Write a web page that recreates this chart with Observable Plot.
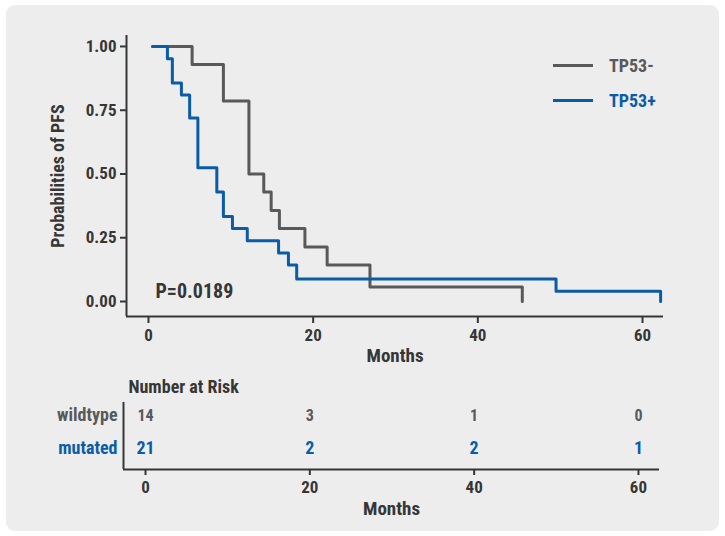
<!DOCTYPE html>
<html>
<head>
<meta charset="utf-8">
<script src="https://cdn.jsdelivr.net/npm/d3@7"></script>
<script src="https://cdn.jsdelivr.net/npm/@observablehq/plot@0.6"></script>
<style>
  html, body { margin: 0; padding: 0; background: #ffffff; }
  #wrap { position: relative; width: 725px; height: 536px; overflow: hidden; }
  #panel { position: absolute; left: 6px; top: 5px; width: 713px; height: 526px; border-radius: 9px; background: #ecedec; }
  #top, #bottom { position: absolute; left: 0; }
  #top { top: 0; }
  #bottom { top: 370px; }
  #legend { position: absolute; left: 553px; top: 48px; font-weight: bold; font-size: 18px; }
  .item { display: flex; align-items: center; height: 35px; }
  .swatch { width: 40px; height: 3px; margin-right: 16px; }
</style>
</head>
<body>
<div id="wrap">
  <div id="panel"></div>
  <div id="top"></div>
  <div id="bottom"></div>
  <div id="legend"></div>
</div>
<script>
// ---- data ----
const groups = ["TP53-", "TP53+"];
const rowLabels = ["wildtype", "mutated"];
const colors = ["#58595b", "#0b5ca7"];

const timesWT = [0.5, 5.3, 9.1, 12.2, 14.0, 14.9, 15.9, 19.0, 21.7, 26.9, 45.4];
const survWT  = [1.0, 0.929, 0.786, 0.5, 0.429, 0.357, 0.286, 0.214, 0.143, 0.057, 0];
const timesMut = [0.5, 2.3, 2.9, 4.0, 5.0, 6.0, 8.3, 9.1, 10.2, 12.0, 15.8, 17.0, 18.0, 49.5, 62.2];
const survMut  = [1.0, 0.952, 0.857, 0.81, 0.72, 0.524, 0.429, 0.333, 0.286, 0.238, 0.19, 0.143, 0.088, 0.04, 0];

const monthTicks = [0, 20, 40, 60];
const probTicks = [0, 0.25, 0.5, 0.75, 1];
const riskTimes = [0, 20, 40, 60];
const riskWT  = [14, 3, 1, 0];
const riskMut = [21, 2, 2, 1];
const pText = "P=0.0189";

// ---- styling ----
const FONT = '"Roboto Condensed","Liberation Sans Narrow","Arial Narrow","DejaVu Sans Condensed",sans-serif';
const DARK = "#363636";
const xDomain = [-2.67, 62.55];
const yDomain = [-0.0588, 1.043];

const wt = timesWT.map((t, i) => ({t, s: survWT[i]}));
const mu = timesMut.map((t, i) => ({t, s: survMut[i]}));

const topPlot = Plot.plot({
  width: 725, height: 370,
  marginLeft: 126, marginRight: 62, marginTop: 35, marginBottom: 54,
  style: {fontFamily: FONT, fontSize: "17px", fontWeight: "bold", background: "transparent", color: DARK},
  x: {domain: xDomain},
  y: {domain: yDomain},
  marks: [
    Plot.ruleX([xDomain[0]], {stroke: DARK, strokeWidth: 2}),
    Plot.ruleY([yDomain[0]], {stroke: DARK, strokeWidth: 2}),
    Plot.axisX({ticks: monthTicks, tickSize: 7, tickPadding: 5, label: null, stroke: DARK, strokeWidth: 2, fill: DARK}),
    Plot.axisY({ticks: probTicks, tickFormat: d3.format(".2f"), tickSize: 6, tickPadding: 4, label: null, stroke: DARK, strokeWidth: 2, fill: DARK}),
    Plot.line(wt, {x: "t", y: "s", curve: "step-after", stroke: colors[0], strokeWidth: 3}),
    Plot.line(mu, {x: "t", y: "s", curve: "step-after", stroke: colors[1], strokeWidth: 3}),
    Plot.text([pText], {text: d => d, frameAnchor: "bottom-left", textAnchor: "start", lineAnchor: "middle", dx: 29, dy: -25, fontSize: 20, fill: DARK}),
    Plot.text(["Months"], {text: d => d, frameAnchor: "bottom", lineAnchor: "middle", dy: 39, fontSize: 19, fill: DARK}),
    Plot.text(["Probabilities of PFS"], {text: d => d, frameAnchor: "left", rotate: -90, textAnchor: "middle", lineAnchor: "middle", dx: -68, fontSize: 18, fill: DARK})
  ]
});
document.getElementById("top").appendChild(topPlot);

const riskRows = [];
riskTimes.forEach((t, i) => {
  riskRows.push({t, r: 0, n: riskWT[i]});
  riskRows.push({t, r: 1, n: riskMut[i]});
});
const rowIdx = rowLabels.map((g, i) => ({g, r: i}));

const bxDomain = [-2.68, 62.56];
const byDomain = [1.636, -0.394];
const bottomPlot = Plot.plot({
  width: 725, height: 166,
  marginLeft: 123, marginRight: 66, marginTop: 32, marginBottom: 67,
  style: {fontFamily: FONT, fontSize: "17px", fontWeight: "bold", background: "transparent", color: DARK},
  x: {domain: bxDomain},
  y: {domain: byDomain, axis: null},
  marks: [
    Plot.ruleX([bxDomain[0]], {stroke: DARK, strokeWidth: 2}),
    Plot.ruleY([byDomain[0]], {stroke: DARK, strokeWidth: 2}),
    Plot.axisX({ticks: monthTicks, tickSize: 6, tickPadding: 5, label: null, stroke: DARK, strokeWidth: 2, fill: DARK}),
    Plot.text(riskRows.filter(d => d.r === 0), {x: "t", y: "r", text: "n", fill: colors[0], fontSize: 16}),
    Plot.text(riskRows.filter(d => d.r === 1), {x: "t", y: "r", text: "n", fill: colors[1], fontSize: 18}),
    Plot.text(rowIdx.filter(d => d.r === 0), {y: "r", text: "g", frameAnchor: "left", textAnchor: "end", dx: -6, fill: colors[0], fontSize: 18}),
    Plot.text(rowIdx.filter(d => d.r === 1), {y: "r", text: "g", frameAnchor: "left", textAnchor: "end", dx: -6, fill: colors[1], fontSize: 18}),
    Plot.text(["Number at Risk"], {text: d => d, frameAnchor: "top-left", textAnchor: "start", lineAnchor: "middle", dx: 5, dy: -15, fontSize: 18, fill: DARK}),
    Plot.text(["Months"], {text: d => d, frameAnchor: "bottom", lineAnchor: "middle", dy: 39, fontSize: 19, fill: DARK})
  ]
});
document.getElementById("bottom").appendChild(bottomPlot);

// legend
const legend = document.getElementById("legend");
groups.forEach((g, i) => {
  const item = document.createElement("div");
  item.className = "item";
  item.style.fontFamily = FONT;
  const sw = document.createElement("div");
  sw.className = "swatch";
  sw.style.background = colors[i];
  const lab = document.createElement("span");
  lab.textContent = g;
  lab.style.color = colors[i];
  item.appendChild(sw);
  item.appendChild(lab);
  legend.appendChild(item);
});
</script>
</body>
</html>
